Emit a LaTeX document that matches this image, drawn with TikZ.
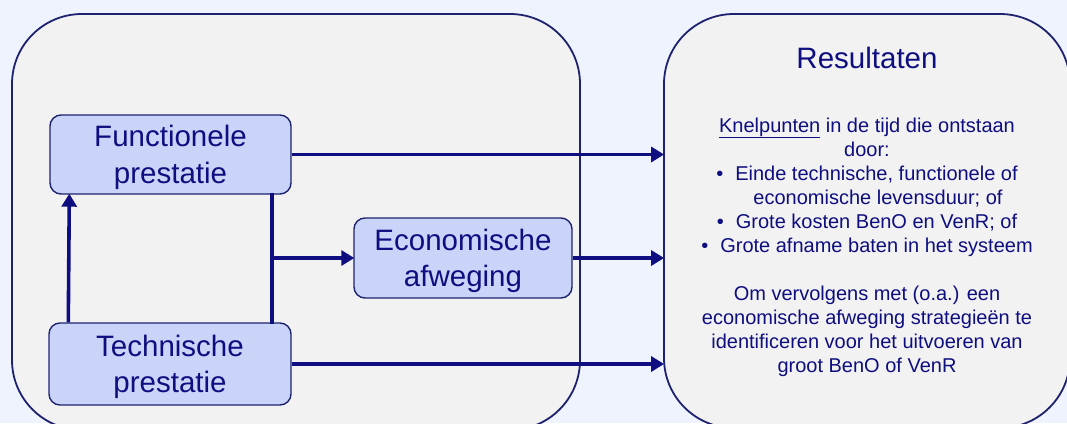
\documentclass[tikz,border=0pt]{standalone}
\usepackage{fontspec}
\setmainfont{Liberation Sans}
\usetikzlibrary{arrows.meta}
\definecolor{bgcol}{RGB}{239,243,253}
\definecolor{boxfill}{RGB}{242,242,242}
\definecolor{nodefill}{RGB}{201,212,248}
\definecolor{navy}{RGB}{14,14,128}
\definecolor{bordercol}{RGB}{30,34,110}
\tikzset{
  bigbox/.style={draw=bordercol, line width=1.8pt, fill=boxfill, rounded corners=70pt, inner sep=0pt},
  stepnode/.style={draw=bordercol, line width=1.4pt, fill=nodefill, rounded corners=11pt,
    text=navy, align=center, inner sep=0pt, text depth=0pt, font=\fontsize{29.5}{36.5}\selectfont},
  conn/.style={draw=navy, line width=3.6pt},
  arr/.style={conn, -{Triangle[length=13pt,width=15pt]}, shorten >=-1pt},
}
\begin{document}
\begin{tikzpicture}[x=1pt,y=-1pt]
\useasboundingbox (0,0) rectangle (1067,423);
\fill[bgcol] (0,0) rectangle (1067,423);
\begin{scope}
\clip (0,0) rectangle (1067,423);
\node[bigbox, minimum width=568pt, minimum height=416pt] (ctx) at (296,222) {};
\node[bigbox, minimum width=406pt, minimum height=414pt] (res) at (867,221) {};
\end{scope}

\node[stepnode, minimum width=241pt, minimum height=79pt] (func) at (170.5,154.5) {Functionele\\prestatie};
\node[stepnode, minimum width=242pt, minimum height=82pt] (tech) at (170,364) {Technische\\prestatie};
\node[stepnode, minimum width=218pt, minimum height=80pt] (econ) at (463,258) {Economische\\afweging};

\node[text=navy, font=\fontsize{29.5}{34}\selectfont, anchor=base] (title) at (867,68) {Resultaten};
\node[text=navy, font=\fontsize{20}{24}\selectfont, align=center, anchor=base, inner sep=0pt] (body) at (867,372)
{\underline{Knelpunten} in de tijd die ontstaan\\
door:\\
•\hspace{12pt}Einde technische, functionele of\\
\hspace*{22pt}economische levensduur; of\\
•\hspace{12pt}Grote kosten BenO en VenR; of\\
•\hspace{12pt}Grote afname baten in het systeem\\[24pt]
Om vervolgens met (o.a.) een\\
economische afweging strategieën te\\
identificeren voor het uitvoeren van\\
groot BenO of VenR};

\coordinate (tu) at ([xshift=20pt]tech.north west);
\coordinate (fd) at ([xshift=20pt]func.south west);
\draw[arr] (tu) -- (fd);
\coordinate (vt) at ([xshift=-20pt,yshift=2pt]func.south east);
\coordinate (vb) at ([xshift=-20pt,yshift=-2pt]tech.north east);
\draw[conn] (vt) -- (vb);
\coordinate (j) at (vt |- econ.west);
\draw[arr] ([xshift=-1.8pt]j) -- (econ.west);
\draw[arr] (func.east) -- (func.east -| res.west);
\draw[arr] (econ.east) -- (econ.east -| res.west);
\draw[arr] (tech.east) -- (tech.east -| res.west);
\end{tikzpicture}
\end{document}
